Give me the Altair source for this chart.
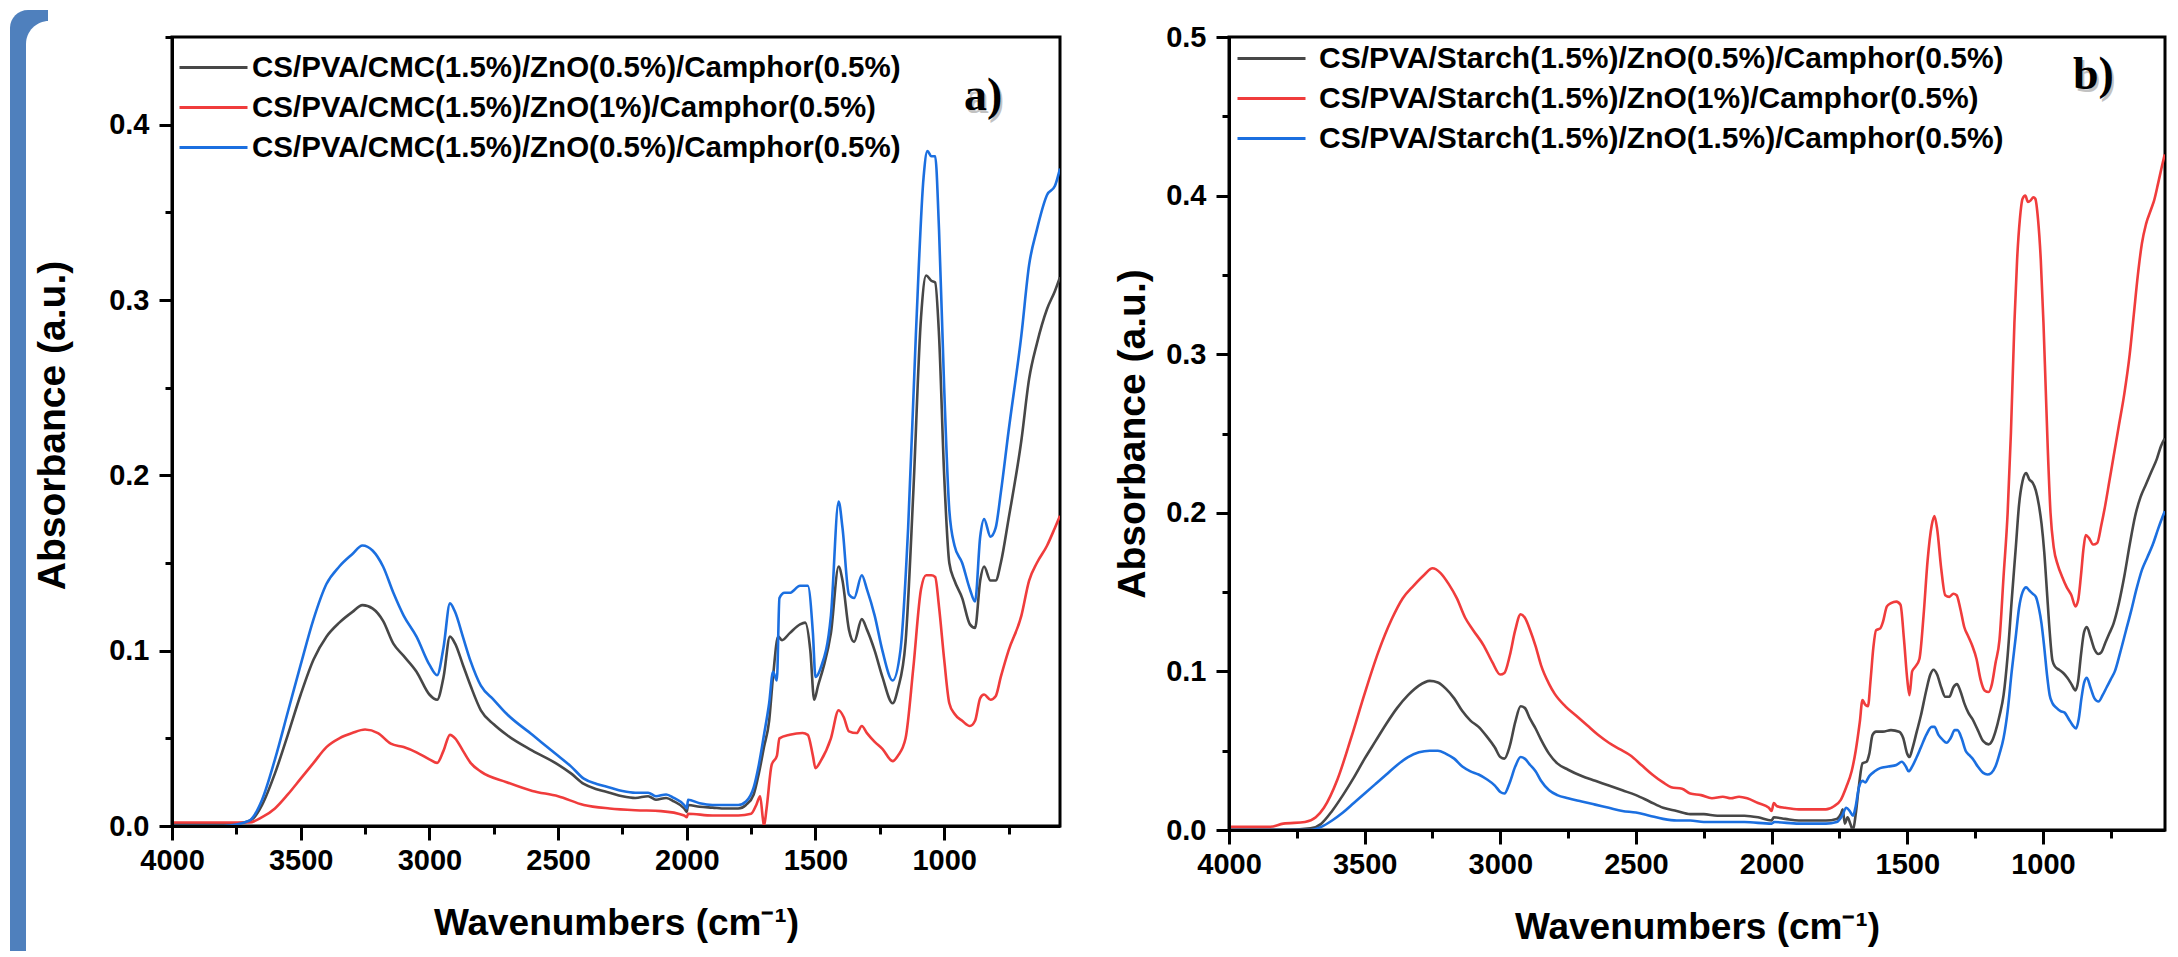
import altair as alt
import pandas as pd

FONT = "Liberation Sans"
SERIF = "Liberation Serif"

# ---------------- panel a) CS/PVA/CMC ----------------
LABELS_A = [
    "CS/PVA/CMC(1.5%)/ZnO(0.5%)/Camphor(0.5%)",
    "CS/PVA/CMC(1.5%)/ZnO(1%)/Camphor(0.5%)",
    "CS/PVA/CMC(1.5%)/ZnO(0.5%)/Camphor(0.5%)",
]
CMC_BLACK = [(4000, 0.001), (3800, 0.001), (3720, 0.002), (3680, 0.005), (3650, 0.012), (3600, 0.030),
             (3550, 0.052), (3500, 0.075), (3450, 0.095), (3400, 0.108), (3350, 0.116), (3300, 0.122),
             (3260, 0.126), (3220, 0.124), (3180, 0.117), (3140, 0.104), (3100, 0.097), (3050, 0.088),
             (3000, 0.075), (2970, 0.072), (2945, 0.085), (2920, 0.108), (2900, 0.104), (2870, 0.092),
             (2840, 0.080), (2800, 0.066), (2750, 0.058), (2700, 0.052), (2600, 0.043), (2500, 0.035),
             (2450, 0.030), (2400, 0.024), (2350, 0.021), (2300, 0.019), (2250, 0.017), (2200, 0.016),
             (2150, 0.017), (2120, 0.015), (2080, 0.016), (2050, 0.014), (2010, 0.010), (2000, 0.008),
             (1995, 0.012), (1950, 0.011), (1900, 0.0105), (1850, 0.010), (1800, 0.010), (1770, 0.012),
             (1740, 0.018), (1720, 0.030), (1700, 0.045), (1680, 0.060), (1665, 0.085), (1645, 0.108),
             (1630, 0.106), (1600, 0.110), (1560, 0.115), (1540, 0.116), (1520, 0.100), (1505, 0.072),
             (1490, 0.080), (1470, 0.090), (1440, 0.110), (1410, 0.148), (1395, 0.140), (1370, 0.112),
             (1350, 0.105), (1320, 0.118), (1300, 0.112), (1270, 0.100), (1240, 0.085), (1200, 0.070),
             (1180, 0.078), (1150, 0.105), (1120, 0.190), (1090, 0.290), (1070, 0.314), (1050, 0.311),
             (1035, 0.310), (1020, 0.280), (1000, 0.200), (980, 0.150), (960, 0.140), (930, 0.130),
             (900, 0.115), (880, 0.113), (860, 0.140), (845, 0.148), (820, 0.140), (800, 0.140),
             (780, 0.150), (750, 0.175), (700, 0.220), (670, 0.255), (640, 0.275), (600, 0.295),
             (570, 0.305), (550, 0.313)]
CMC_RED = [(4000, 0.002), (3800, 0.002), (3700, 0.002), (3650, 0.005), (3600, 0.010), (3550, 0.018),
           (3500, 0.027), (3450, 0.036), (3400, 0.045), (3350, 0.050), (3300, 0.053), (3250, 0.055),
           (3200, 0.053), (3150, 0.047), (3100, 0.045), (3050, 0.042), (3000, 0.038), (2970, 0.036),
           (2945, 0.043), (2920, 0.052), (2900, 0.050), (2870, 0.043), (2840, 0.036), (2800, 0.031),
           (2700, 0.025), (2600, 0.020), (2500, 0.017), (2400, 0.012), (2300, 0.010), (2200, 0.009),
           (2100, 0.0085), (2010, 0.006), (2000, 0.005), (1995, 0.007), (1900, 0.006), (1800, 0.006),
           (1750, 0.007), (1730, 0.012), (1715, 0.017), (1705, 0.005), (1700, 0.000), (1690, 0.010),
           (1670, 0.035), (1650, 0.040), (1640, 0.050), (1600, 0.052), (1550, 0.053), (1530, 0.052),
           (1510, 0.040), (1500, 0.033), (1480, 0.037), (1440, 0.050), (1410, 0.066), (1390, 0.062),
           (1370, 0.054), (1340, 0.053), (1320, 0.057), (1300, 0.053), (1270, 0.048), (1240, 0.044),
           (1200, 0.037), (1180, 0.040), (1150, 0.050), (1120, 0.090), (1090, 0.135), (1070, 0.143),
           (1050, 0.143), (1035, 0.142), (1020, 0.125), (1000, 0.095), (980, 0.070), (960, 0.064),
           (930, 0.060), (900, 0.057), (880, 0.060), (860, 0.073), (845, 0.075), (820, 0.072),
           (800, 0.074), (780, 0.085), (750, 0.100), (700, 0.120), (670, 0.140), (640, 0.150),
           (600, 0.160), (570, 0.170), (550, 0.177)]
CMC_BLUE = [(4000, 0.000), (3800, 0.000), (3700, 0.003), (3650, 0.015), (3600, 0.038), (3550, 0.065),
            (3500, 0.092), (3450, 0.118), (3400, 0.138), (3350, 0.148), (3300, 0.155), (3260, 0.160),
            (3220, 0.157), (3180, 0.148), (3140, 0.133), (3100, 0.120), (3050, 0.108), (3000, 0.092),
            (2970, 0.086), (2945, 0.102), (2920, 0.127), (2900, 0.122), (2870, 0.108), (2840, 0.094),
            (2800, 0.080), (2750, 0.072), (2700, 0.064), (2600, 0.052), (2500, 0.040), (2450, 0.034),
            (2400, 0.027), (2350, 0.024), (2300, 0.022), (2250, 0.020), (2200, 0.019), (2150, 0.019),
            (2120, 0.017), (2080, 0.018), (2050, 0.016), (2010, 0.012), (2000, 0.010), (1995, 0.015),
            (1950, 0.013), (1900, 0.012), (1850, 0.012), (1800, 0.012), (1770, 0.014), (1740, 0.022),
            (1720, 0.035), (1700, 0.052), (1680, 0.070), (1665, 0.088), (1650, 0.083), (1640, 0.130),
            (1620, 0.133), (1600, 0.133), (1560, 0.137), (1530, 0.137), (1510, 0.110), (1500, 0.085),
            (1480, 0.090), (1440, 0.120), (1410, 0.185), (1395, 0.170), (1370, 0.132), (1350, 0.130),
            (1320, 0.143), (1300, 0.135), (1270, 0.120), (1240, 0.100), (1200, 0.083), (1170, 0.100),
            (1140, 0.170), (1110, 0.280), (1080, 0.370), (1065, 0.385), (1050, 0.382), (1035, 0.382),
            (1020, 0.340), (1000, 0.250), (980, 0.180), (960, 0.160), (930, 0.150), (900, 0.135),
            (880, 0.128), (860, 0.165), (845, 0.175), (820, 0.165), (800, 0.170), (780, 0.190),
            (750, 0.225), (700, 0.280), (670, 0.320), (640, 0.340), (600, 0.360), (570, 0.365),
            (550, 0.375)]

# ---------------- panel b) CS/PVA/Starch ----------------
LABELS_B = [
    "CS/PVA/Starch(1.5%)/ZnO(0.5%)/Camphor(0.5%)",
    "CS/PVA/Starch(1.5%)/ZnO(1%)/Camphor(0.5%)",
    "CS/PVA/Starch(1.5%)/ZnO(1.5%)/Camphor(0.5%)",
]
STARCH_BLACK = [(4000, 0.000), (3800, 0.000), (3700, 0.001), (3660, 0.004), (3620, 0.012), (3580, 0.022),
                (3540, 0.033), (3500, 0.045), (3460, 0.056), (3420, 0.067), (3380, 0.077), (3340, 0.085),
                (3300, 0.091), (3260, 0.094), (3230, 0.093), (3200, 0.089), (3170, 0.083), (3140, 0.075),
                (3110, 0.069), (3080, 0.065), (3050, 0.059), (3020, 0.052), (3000, 0.046), (2985, 0.045),
                (2965, 0.053), (2945, 0.068), (2925, 0.078), (2910, 0.077), (2890, 0.070), (2870, 0.064),
                (2850, 0.057), (2820, 0.048), (2790, 0.042), (2750, 0.038), (2700, 0.034), (2650, 0.031),
                (2600, 0.028), (2550, 0.025), (2500, 0.022), (2450, 0.018), (2400, 0.014), (2350, 0.012),
                (2300, 0.010), (2250, 0.010), (2200, 0.009), (2150, 0.009), (2100, 0.009), (2050, 0.008),
                (2000, 0.006), (1992, 0.008), (1950, 0.007), (1900, 0.006), (1850, 0.006), (1800, 0.006),
                (1760, 0.007), (1745, 0.010), (1738, 0.013), (1730, 0.004), (1720, 0.008), (1710, 0.004),
                (1700, 0.000), (1690, 0.010), (1678, 0.028), (1665, 0.042), (1650, 0.043), (1640, 0.048),
                (1628, 0.060), (1615, 0.062), (1590, 0.062), (1560, 0.063), (1530, 0.062), (1515, 0.058),
                (1500, 0.048), (1492, 0.046), (1480, 0.052), (1465, 0.062), (1450, 0.072), (1430, 0.088),
                (1415, 0.098), (1403, 0.101), (1390, 0.098), (1375, 0.090), (1360, 0.084), (1345, 0.084),
                (1330, 0.090), (1317, 0.092), (1305, 0.088), (1290, 0.080), (1275, 0.074), (1260, 0.070),
                (1240, 0.063), (1220, 0.056), (1200, 0.054), (1188, 0.056), (1175, 0.062), (1160, 0.072),
                (1145, 0.085), (1130, 0.110), (1115, 0.145), (1100, 0.178), (1088, 0.205), (1075, 0.220),
                (1062, 0.225), (1050, 0.221), (1038, 0.219), (1026, 0.214), (1015, 0.205), (1005, 0.193),
                (995, 0.175), (985, 0.150), (975, 0.125), (965, 0.107), (955, 0.103), (940, 0.101),
                (925, 0.099), (910, 0.096), (895, 0.092), (880, 0.088), (870, 0.094), (860, 0.110),
                (848, 0.125), (838, 0.128), (825, 0.122), (810, 0.114), (795, 0.111), (785, 0.112),
                (770, 0.118), (755, 0.124), (740, 0.130), (720, 0.143), (700, 0.160), (680, 0.180),
                (660, 0.198), (640, 0.210), (620, 0.218), (600, 0.226), (580, 0.234), (565, 0.242),
                (551, 0.247)]
STARCH_RED = [(4000, 0.002), (3850, 0.002), (3800, 0.004), (3720, 0.005), (3680, 0.008), (3650, 0.014),
              (3600, 0.032), (3550, 0.058), (3500, 0.086), (3450, 0.112), (3400, 0.133), (3360, 0.146),
              (3320, 0.154), (3280, 0.161), (3250, 0.165), (3220, 0.162), (3190, 0.155), (3160, 0.146),
              (3130, 0.134), (3100, 0.126), (3060, 0.116), (3030, 0.106), (3000, 0.098), (2985, 0.099),
              (2965, 0.110), (2945, 0.126), (2925, 0.136), (2910, 0.134), (2890, 0.126), (2870, 0.116),
              (2850, 0.104), (2820, 0.092), (2800, 0.086), (2760, 0.078), (2720, 0.072), (2680, 0.066),
              (2640, 0.060), (2600, 0.055), (2560, 0.051), (2520, 0.047), (2480, 0.041), (2440, 0.035),
              (2400, 0.030), (2370, 0.027), (2330, 0.026), (2300, 0.023), (2260, 0.022), (2220, 0.020),
              (2180, 0.021), (2150, 0.020), (2120, 0.021), (2090, 0.020), (2050, 0.017), (2010, 0.014),
              (2000, 0.012), (1992, 0.017), (1980, 0.015), (1950, 0.014), (1900, 0.013), (1850, 0.013),
              (1800, 0.013), (1770, 0.015), (1745, 0.019), (1725, 0.027), (1705, 0.037), (1690, 0.050),
              (1675, 0.068), (1665, 0.082), (1655, 0.079), (1645, 0.078), (1635, 0.095), (1625, 0.115),
              (1615, 0.126), (1600, 0.127), (1590, 0.131), (1575, 0.141), (1560, 0.143), (1540, 0.144),
              (1525, 0.142), (1512, 0.120), (1500, 0.095), (1492, 0.085), (1482, 0.100), (1470, 0.103),
              (1455, 0.108), (1440, 0.135), (1425, 0.170), (1410, 0.192), (1400, 0.198), (1390, 0.190),
              (1375, 0.165), (1360, 0.148), (1345, 0.147), (1330, 0.149), (1318, 0.148), (1305, 0.140),
              (1290, 0.128), (1275, 0.122), (1260, 0.116), (1245, 0.108), (1230, 0.095), (1215, 0.088),
              (1200, 0.087), (1188, 0.092), (1175, 0.105), (1160, 0.120), (1145, 0.160), (1130, 0.200),
              (1118, 0.250), (1105, 0.320), (1095, 0.360), (1085, 0.385), (1075, 0.398), (1065, 0.400),
              (1055, 0.396), (1045, 0.397), (1035, 0.399), (1028, 0.398), (1018, 0.385), (1008, 0.360),
              (998, 0.320), (990, 0.280), (982, 0.240), (972, 0.200), (960, 0.178), (945, 0.167),
              (930, 0.160), (912, 0.153), (895, 0.148), (880, 0.141), (870, 0.145), (860, 0.160),
              (850, 0.178), (842, 0.186), (830, 0.184), (815, 0.180), (800, 0.181), (785, 0.192),
              (770, 0.205), (755, 0.220), (740, 0.235), (720, 0.255), (700, 0.275), (680, 0.300),
              (665, 0.325), (650, 0.350), (635, 0.370), (620, 0.382), (600, 0.392), (590, 0.397),
              (575, 0.408), (562, 0.418), (551, 0.426)]
STARCH_BLUE = [(4000, 0.000), (3800, 0.000), (3700, 0.000), (3660, 0.002), (3620, 0.006), (3580, 0.011),
               (3540, 0.017), (3500, 0.023), (3460, 0.029), (3420, 0.035), (3380, 0.041), (3340, 0.046),
               (3300, 0.049), (3260, 0.050), (3230, 0.050), (3200, 0.048), (3170, 0.045), (3140, 0.040),
               (3110, 0.037), (3080, 0.035), (3050, 0.032), (3020, 0.028), (3000, 0.024), (2985, 0.023),
               (2965, 0.030), (2945, 0.040), (2925, 0.046), (2910, 0.045), (2890, 0.041), (2870, 0.037),
               (2850, 0.031), (2820, 0.025), (2790, 0.022), (2750, 0.020), (2700, 0.018), (2650, 0.016),
               (2600, 0.014), (2550, 0.012), (2500, 0.011), (2450, 0.009), (2400, 0.007), (2350, 0.006),
               (2300, 0.006), (2250, 0.005), (2200, 0.005), (2100, 0.005), (2000, 0.004), (1990, 0.005),
               (1900, 0.004), (1800, 0.004), (1760, 0.005), (1740, 0.009), (1725, 0.014), (1712, 0.012),
               (1700, 0.009), (1690, 0.015), (1678, 0.027), (1665, 0.031), (1655, 0.030), (1640, 0.034),
               (1620, 0.037), (1600, 0.039), (1570, 0.040), (1540, 0.041), (1520, 0.043), (1505, 0.040),
               (1495, 0.037), (1482, 0.040), (1465, 0.046), (1450, 0.052), (1430, 0.060), (1410, 0.065),
               (1400, 0.065), (1385, 0.060), (1370, 0.057), (1355, 0.055), (1340, 0.058), (1325, 0.063),
               (1315, 0.063), (1300, 0.058), (1285, 0.050), (1270, 0.047), (1255, 0.044), (1240, 0.040),
               (1220, 0.036), (1205, 0.035), (1190, 0.036), (1175, 0.040), (1160, 0.048), (1145, 0.058),
               (1130, 0.075), (1115, 0.100), (1100, 0.122), (1088, 0.140), (1075, 0.150), (1062, 0.153),
               (1050, 0.151), (1038, 0.149), (1026, 0.147), (1015, 0.140), (1005, 0.130), (995, 0.115),
               (985, 0.098), (975, 0.085), (965, 0.080), (950, 0.077), (935, 0.075), (920, 0.074),
               (905, 0.070), (890, 0.066), (878, 0.064), (868, 0.070), (858, 0.083), (848, 0.093),
               (838, 0.096), (825, 0.090), (810, 0.083), (795, 0.081), (780, 0.085), (765, 0.090),
               (750, 0.095), (735, 0.100), (715, 0.112), (695, 0.125), (675, 0.138), (655, 0.152),
               (635, 0.164), (615, 0.172), (595, 0.180), (575, 0.190), (560, 0.197), (551, 0.201)]

COLORS = ["#474747", "#f03c3c", "#1b6fe0"]
X_TICKS = list(range(4000, 549, -250))
X_DOMAIN = [550, 4000]
# legend key: a horizontal line four "radii" long, starting at the left edge of the symbol cell
LEGEND_PATH = "M-1,0H3"
LEGEND_SIZE = 34 * 34


def make_frame(ids, series):
    rows = []
    for sid, pts in zip(ids, series):
        for wn, a in pts:
            rows.append({"series": sid, "wn": wn, "A": a})
    return pd.DataFrame(rows)


def label_expr(ids, labels):
    expr = "''"
    for sid, lab in reversed(list(zip(ids, labels))):
        expr = f"datum.label == '{sid}' ? '{lab}' : ({expr})"
    return expr


def panel(df, ids, labels, ymax, w, h, leg_x, leg_y, leg_offset, leg_font, leg_row, tag, tag_x, tag_y,
          title_pad, title_y, decorate):
    y_ticks = [round(i * 0.05, 2) for i in range(int(round(ymax / 0.05)) + 1)]
    major_y = "abs(datum.value * 10 - round(datum.value * 10)) < 0.001"
    major_x = "datum.value % 500 == 0"
    common = dict(grid=False, domainColor="black", domainWidth=3, tickColor="black", tickWidth=3,
                  labelFont=FONT, labelFontWeight="bold", labelFontSize=29, labelColor="black",
                  titleFont=FONT, titleFontWeight="bold", titleColor="black",
                  labelFlush=False, labelOverlap=False, zindex=1)
    x_axis = alt.Axis(values=X_TICKS, title="Wavenumbers (cm⁻¹)", titleFontSize=37,
                      labelExpr=f"{major_x} ? format(datum.value, 'd') : ''",
                      tickSize={"condition": {"test": major_x, "value": 14}, "value": 8},
                      labelPadding=6, titlePadding=30, **common)
    y_kw = dict(values=y_ticks, title="Absorbance (a.u.)", titleFontSize=39,
                labelExpr=f"{major_y} ? format(datum.value, '.1f') : ''",
                tickSize={"condition": {"test": major_y, "value": 13}, "value": 7},
                labelPadding=10, titlePadding=title_pad, **common)
    if title_y is not None:
        y_kw["titleY"] = title_y
    y_axis = alt.Axis(**y_kw)

    lines = alt.Chart(df).mark_line(strokeWidth=2.6, clip=True, interpolate="monotone").encode(
        x=alt.X("wn:Q", scale=alt.Scale(domain=X_DOMAIN, reverse=True, nice=False, zero=False), axis=x_axis),
        y=alt.Y("A:Q", scale=alt.Scale(domain=[0, ymax], nice=False, zero=True), axis=y_axis),
        color=alt.Color("series:N", scale=alt.Scale(domain=ids, range=COLORS),
                        legend=alt.Legend(orient="none", legendX=leg_x, legendY=leg_y, title=None,
                                          symbolType=LEGEND_PATH, symbolStrokeWidth=3, symbolSize=LEGEND_SIZE,
                                          symbolFillColor="transparent",
                                          labelFont=FONT, labelFontWeight="bold", labelFontSize=leg_font,
                                          labelColor="black", labelLimit=0, labelOffset=leg_offset,
                                          rowPadding=leg_row, padding=0,
                                          labelExpr=label_expr(ids, labels))),
    )
    one = pd.DataFrame({"k": [0]})
    shadow = alt.Chart(one).mark_text(font=SERIF, fontWeight="bold", fontSize=46, align="left",
                                      baseline="alphabetic", color="#9a9a9a", opacity=0.6).encode(
        x=alt.value(tag_x + 2), y=alt.value(tag_y + 3), text=alt.value(tag))
    tag_txt = alt.Chart(one).mark_text(font=SERIF, fontWeight="bold", fontSize=46, align="left",
                                       baseline="alphabetic", color="black").encode(
        x=alt.value(tag_x), y=alt.value(tag_y), text=alt.value(tag))
    layers = []
    if decorate:
        band = alt.Chart(one).mark_rect(color="#4f80bd", cornerRadiusTopLeft=18).encode(
            x=alt.value(-162), x2=alt.value(-124), y=alt.value(-27), y2=alt.value(914))
        cut = alt.Chart(one).mark_rect(color="white", cornerRadiusTopLeft=46, cornerRadiusBottomLeft=10).encode(
            x=alt.value(-146), x2=alt.value(-100), y=alt.value(-16), y2=alt.value(930))
        layers += [band, cut]
    layers += [lines, shadow, tag_txt]
    return alt.layer(*layers).properties(width=w, height=h)


df_a = make_frame(["a1", "a2", "a3"], [CMC_BLACK, CMC_RED, CMC_BLUE])
df_b = make_frame(["b1", "b2", "b3"], [STARCH_BLACK, STARCH_RED, STARCH_BLUE])

pa = panel(df_a, ["a1", "a2", "a3"], LABELS_A, 0.45, 888, 789, 6, 12, 37, 29.5, 7, "a)", 792, 73,
           36, 388, True)
pb = panel(df_b, ["b1", "b2", "b3"], LABELS_B, 0.5, 936, 793, 7, 3, 46, 30, 6, "b)", 844, 52,
           13, None, False)

chart = alt.hconcat(pa, pb, spacing=169, bounds="flush").resolve_scale(color="independent").configure_view(
    stroke="black", strokeWidth=3).properties(padding=0)

chart.save("out.html", embed_options={"renderer": "svg", "actions": False})
